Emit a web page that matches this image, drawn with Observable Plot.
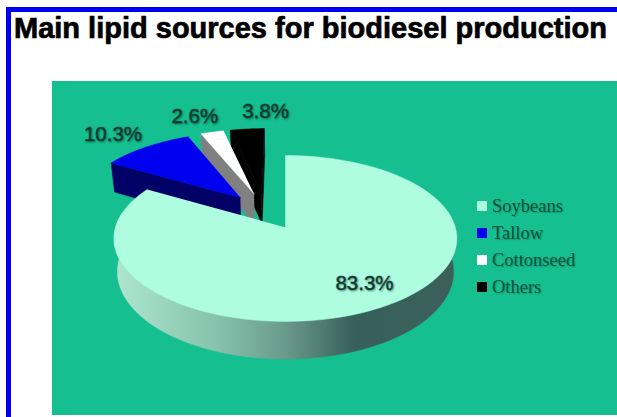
<!DOCTYPE html>
<html>
<head>
<meta charset="utf-8">
<script src="https://cdn.jsdelivr.net/npm/d3@7"></script>
<script src="https://cdn.jsdelivr.net/npm/@observablehq/plot@0.6"></script>
<style>
  html, body { margin: 0; padding: 0; background: #fff; overflow: hidden; }
  #page { position: relative; width: 617px; height: 417px; overflow: hidden; }
  #frame { position: absolute; left: 6px; top: 7px; width: 620px; height: 420px; border-left: 5px solid #0000f0; border-top: 5px solid #0000f0; }
  #title { position: absolute; left: 14px; top: 12px; margin: 0; white-space: nowrap;
    font: bold 29px "Liberation Sans", Arial, sans-serif; color: #000; -webkit-text-stroke: 0.7px #000; }
  #panel { position: absolute; left: 52px; top: 81px; width: 565px; height: 334px; background: #15bf90; }
  #panel svg { display: block; background: transparent; overflow: visible; }
  #panel svg text { text-shadow: 1px 1px 2px rgba(0,50,40,.45); }
  #legend { position: absolute; left: 477px; top: 193px; font: 18.5px "Liberation Serif", "Times New Roman", serif; color: #07503c; }
  #legend div { position: relative; height: 27px; line-height: 27px; padding-left: 15px; white-space: nowrap; text-shadow: 1px 1px 1px rgba(0,60,45,.3); }
  #legend i { position: absolute; left: 0; top: 8px; width: 10px; height: 10px; }
</style>
</head>
<body>
<div id="page">
  <div id="frame"></div>
  <h1 id="title">Main lipid sources for biodiesel production</h1>
  <div id="panel"></div>
  <div id="legend"></div>
</div>
<script>
// Shares of lipid feedstock, in percent
const categories = ["Soybeans", "Tallow", "Cottonseed", "Others"];
const shares = [83.3, 10.3, 2.6, 3.8];
const topColors = ["#aefde0", "#0000f0", "#ffffff", "#000000"];
const cutColors = ["#7fb9a5", "#000066", "#808080", "#000000"];

// Pie view: perspective tilt, wall thickness, explosion distance (disc radii)
const tilt = 0.1325, wall = 0.4, taper = 0.02, explode = 0.24;
const degree = Math.PI / 180;

const total = d3.sum(shares);
let running = 0;
const slices = categories.map((name, i) => {
  const start = running / total * 2 * Math.PI;
  running += shares[i];
  const end = running / total * 2 * Math.PI;
  const mid = (start + end) / 2;
  // The large slice sits at the origin, the small ones pull away on the far side
  const ox = i === 0 ? 0 : -Math.sin(2.618) * explode + Math.sin(mid) * explode;
  const oy = i === 0 ? 0 : -Math.cos(2.618) * explode + Math.cos(mid) * explode;
  return {name, i, start, end, mid, ox, oy};
});

// Project a disc position to the view; depth 0 is the top face, 1 the underside
function project(X, Y, depth = 0) {
  const w = 1 + tilt * Y;
  return {x: X / w * (1 - taper * depth), y: (Y - wall * depth) / w};
}
const rim = (s, a, depth) => project(s.ox + Math.sin(a), s.oy + Math.cos(a), depth);
const hub = (s, depth) => project(s.ox, s.oy, depth);
const sweep = (a, b) => d3.range(0, 121).map((k) => a + (b - a) * k / 120);

const topFace = (s) => [hub(s), ...sweep(s.start, s.end).map((a) => rim(s, a, 0))];
const cutFace = (s, a) => [hub(s), rim(s, a, 0), rim(s, a, 1), hub(s, 1)];
const outerWall = (s, a, b) => [
  ...sweep(a, b).map((t) => rim(s, t, 0)),
  ...sweep(a, b).reverse().map((t) => rim(s, t, 1))
];

const face = (points, fill) => Plot.line(points, {x: "x", y: "y", fill, stroke: fill, strokeWidth: 0.5});

// Slices are layered back to front
const [soy, tallow, cotton, others] = slices;
const marks = [
  () => {
    const defs = d3.create("svg:defs");
    const g = defs.append("linearGradient").attr("id", "soyWall");
    [[0, "#aee6cf"], [0.3, "#86c2ad"], [0.5, "#6a9a8b"], [0.7, "#37605a"], [1, "#3c605a"]]
      .forEach(([o, c]) => g.append("stop").attr("offset", o).attr("stop-color", c));
    return defs.node();
  },
  face(cutFace(others, others.start), cutColors[3]),
  face(cutFace(others, others.end), cutColors[3]),
  face(topFace(others), topColors[3]),
  face(cutFace(cotton, cotton.start), cutColors[2]),
  face(topFace(cotton), topColors[2]),
  face(cutFace(tallow, tallow.start), cutColors[1]),
  face(topFace(tallow), topColors[1]),
  face(outerWall(soy, 80 * degree, 280 * degree), "url(#soyWall)"),
  face(topFace(soy), topColors[0])
];

// Percent labels: large slice inside its face, the others beyond their rims
const labelReach = [0.76, 1.33, 1.31, 1.3];
const labelTurn = [-4, -2, -2, 7];
const labels = slices.map((s, i) => {
  const a = s.mid + labelTurn[i] * degree;
  return {...project(s.ox + Math.sin(a) * labelReach[i], s.oy + Math.cos(a) * labelReach[i]), text: shares[i].toFixed(1) + "%"};
});
marks.push(Plot.text(labels, {
  x: "x", y: "y", text: "text", fontSize: 20.5, fontFamily: "Liberation Sans, Arial, sans-serif",
  fill: "#10382f", stroke: "#10382f", strokeWidth: 0.4, textAnchor: "middle"
}));

const chart = Plot.plot({
  width: 565, height: 334,
  marginTop: 0, marginRight: 0, marginBottom: 0, marginLeft: 0,
  style: {background: "transparent"},
  x: {domain: [-1, 1], range: [63, 403], axis: null},
  y: {domain: [-1, 1], range: [227.5, 64.5], axis: null},
  marks
});
document.getElementById("panel").appendChild(chart);

// Legend
const legend = d3.select("#legend");
categories.forEach((name, i) => {
  const row = legend.append("div").text(name);
  row.append("i").style("background", topColors[i]);
});
</script>
</body>
</html>
